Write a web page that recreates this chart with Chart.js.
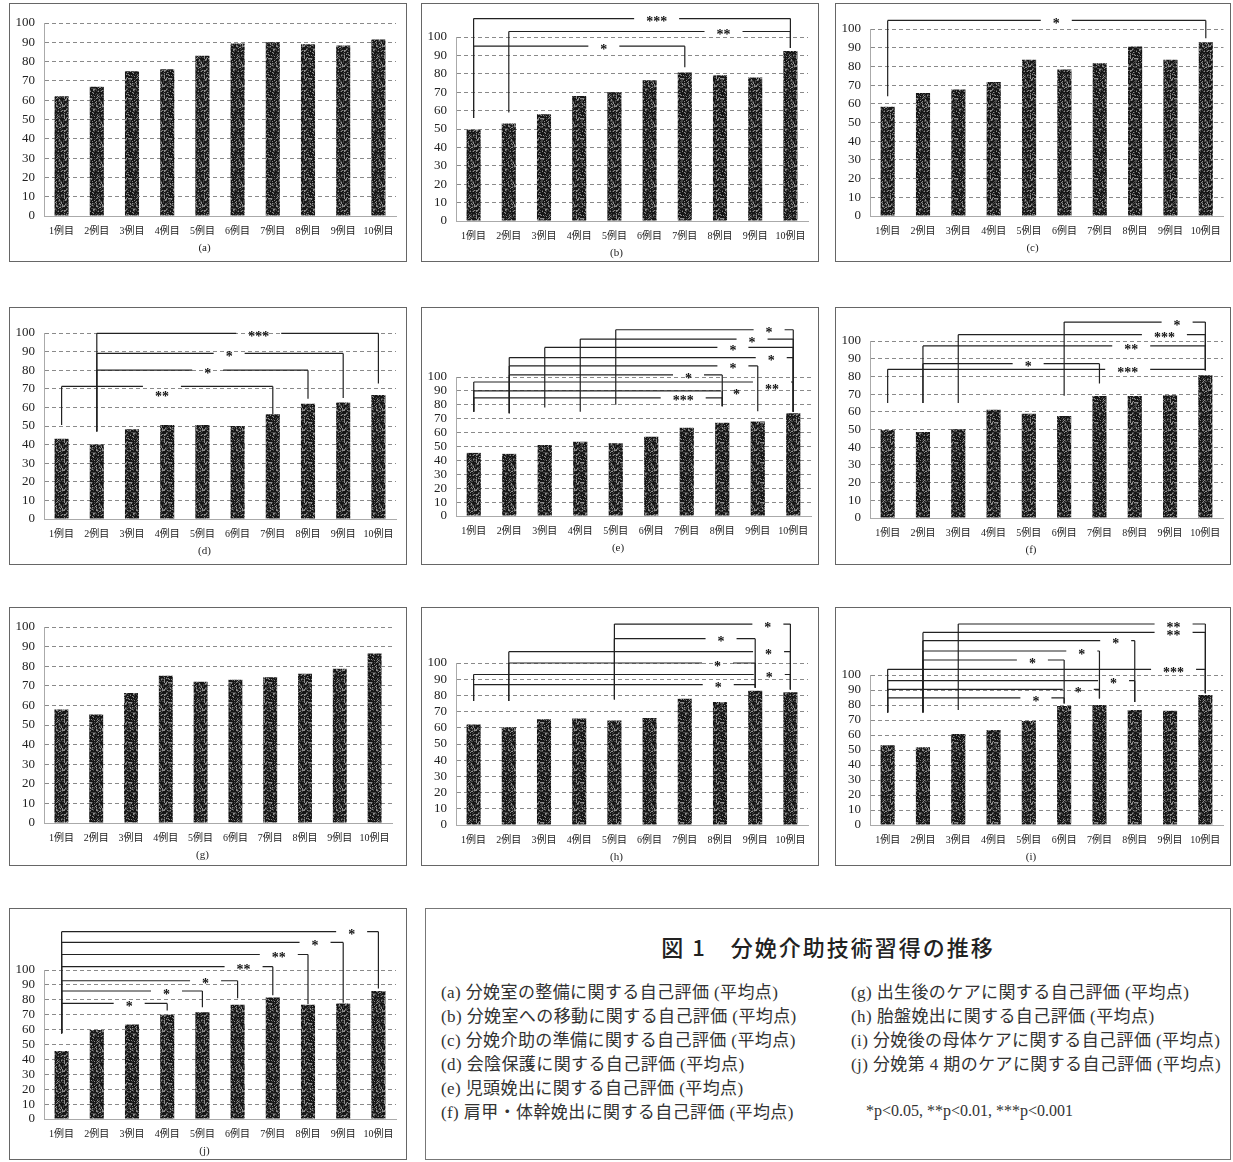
<!DOCTYPE html>
<html lang="ja">
<head>
<meta charset="utf-8">
<script src="https://cdn.jsdelivr.net/npm/chart.js@4"></script>
<style>
  body { margin: 0; width: 1233px; height: 1162px; background: #fff; position: relative; overflow: hidden; }
  .panel { position: absolute; border: 1px solid #666; box-sizing: border-box; background: #fff; }
  .panel canvas { display: block; }
  #caption { position: absolute; left: 425px; top: 908px; width: 806px; height: 252px; border: 1px solid #777; box-sizing: border-box; color: #333; }
  #caption .ttl { position: absolute; left: 0; width: 100%; top: 21px; text-align: center; font: 500 22px 'Noto Sans CJK JP', sans-serif; letter-spacing: 2px; color: #222; }
  #caption .col { position: absolute; font: 17px 'Liberation Serif', 'Noto Sans CJK JP', serif; letter-spacing: 0.4px; line-height: 24px; white-space: nowrap; }
  #caption .note { position: absolute; font: 16px 'Liberation Serif', serif; white-space: nowrap; }
</style>
</head>
<body>
<div id="caption">
  <div class="ttl">図 1　分娩介助技術習得の推移</div>
  <div class="col" id="capLeft" style="left:15px; top:72px;"></div>
  <div class="col" id="capRight" style="left:425px; top:72px;"></div>
  <div class="note" style="left:440px; top:193px;">*p&lt;0.05, **p&lt;0.01, ***p&lt;0.001</div>
</div>
<script>
// 横軸と目盛り
const categories = ['1例目', '2例目', '3例目', '4例目', '5例目', '6例目', '7例目', '8例目', '9例目', '10例目'];
const yTicks = [0, 10, 20, 30, 40, 50, 60, 70, 80, 90, 100];

// 各グラフの平均点
const scoresA = [62, 67, 75, 76, 83, 89.4, 90, 89, 88.4, 91.5];
const scoresB = [49.6, 53, 58, 68, 70, 76.5, 80.7, 79.2, 78, 92.4];
const scoresC = [58.4, 65.8, 67.6, 71.7, 83.6, 78.3, 81.7, 90.7, 83.5, 92.9];
const scoresD = [43.2, 40, 48.3, 50.5, 50.5, 50, 56.3, 62, 62.6, 66.6];
const scoresE = [45.4, 44.7, 51, 53.4, 52.4, 57, 63.5, 67.1, 67.9, 73.9];
const scoresF = [49.7, 48.6, 50.1, 61.2, 58.9, 57.6, 68.9, 68.9, 69.4, 80.7];
const scoresG = [57.9, 55.4, 66.3, 75.1, 72.1, 73.1, 74.3, 76.2, 78.7, 86.5];
const scoresH = [62, 60.4, 65.3, 65.7, 64.5, 66.1, 78, 75.9, 82.9, 82];
const scoresI = [53.1, 51.8, 60.7, 63.3, 69.3, 79.3, 80, 76.7, 76.2, 86.7];
const scoresJ = [45.7, 59.8, 63.5, 70, 71.7, 76.7, 81.5, 76.7, 77.6, 85.9];

// 有意差の括弧: [始点, 終点, 高さ, 始点の下端, 終点の下端, 記号, 記号の位置, 記号の高さ]
const sigA = [];
const sigB = [
  [0, 9, 110, 56, 94, '***', 5.2],
  [1, 9, 103, 59, 94, '**', 7.1],
  [0, 6, 95, 56, 83.5, '*', 3.7]
];
const sigC = [
  [0, 9, 104.6, 64, 95, '*', 4.77]
];
const sigD = [
  [1, 9, 99.8, 47, 72.8, '***', 5.6],
  [1, 8, 89, 47, 65, '*', 4.76],
  [1, 7, 80, 47, 64.6, '*', 4.15],
  [0, 6, 71.3, 50.5, 56.3, '**', 2.85, 67.8]
];
const sigE = [
  [4, 9, 134, 80, 75, '*', 8.32],
  [3, 9, 127.3, 75, 75, '*', 7.84],
  [2, 9, 121.3, 78, 75, '*', 7.3],
  [1, 9, 114, 74, 75, '*', 8.38],
  [1, 8, 108, 74, 75.4, '*', 7.3],
  [1, 7, 101.5, 74, 79, '*', 6.05],
  [0, 9, 96.4, 75, 75, '**', 8.4, 93.5],
  [0, 7, 90, 75, 79, '*', 7.4],
  [0, 7, 85, 75, 79, '***', 5.9]
];
const sigF = [
  [5, 9, 110.7, 69, 83.5, '*', 8.2],
  [2, 9, 103.6, 65, 83.5, '***', 7.84],
  [1, 9, 97.2, 65, 83.5, '**', 6.9],
  [1, 6, 87.2, 65, 76, '*', 3.98],
  [0, 9, 84, 65, 83.5, '***', 6.8]
];
const sigG = [];
const sigH = [
  [4, 9, 124, 77.5, 83.7, '*', 8.36],
  [4, 8, 115, 77.5, 84.7, '*', 7.03],
  [1, 9, 107, 76.5, 83.7, '*', 8.38],
  [1, 8, 100, 76.5, 84.7, '*', 6.93],
  [0, 9, 92.9, 76.5, 83.7, '*', 8.4],
  [0, 8, 86.7, 76.5, 84.7, '*', 6.95]
];
const sigI = [
  [2, 9, 134, 76.7, 87.8, '**', 8.1],
  [1, 9, 128.4, 75, 87.8, '**', 8.1],
  [1, 7, 122.9, 75, 82, '*', 6.46],
  [1, 6, 116, 75, 84.4, '*', 5.5],
  [1, 5, 110, 75, 81, '*', 4.1],
  [0, 9, 103.8, 75, 87.8, '***', 8.1],
  [0, 7, 96.2, 75, 82, '*', 6.4],
  [0, 6, 90.4, 75, 84.4, '*', 5.4],
  [0, 5, 84.7, 75, 81, '*', 4.2]
];
const sigJ = [
  [0, 9, 125.7, 57.6, 87.6, '*', 8.24],
  [0, 8, 118.5, 57.6, 78, '*', 7.2],
  [0, 7, 110.4, 57.6, 77.2, '**', 6.17],
  [0, 6, 102.2, 57.6, 83, '**', 5.17],
  [0, 5, 92.8, 57.6, 81, '*', 4.09],
  [0, 4, 85.9, 57.6, 75, '*', 2.98],
  [0, 3, 77.6, 57.6, 72.8, '*', 1.92]
];

const captionLeft = [
  '(a) 分娩室の整備に関する自己評価 (平均点)',
  '(b) 分娩室への移動に関する自己評価 (平均点)',
  '(c) 分娩介助の準備に関する自己評価 (平均点)',
  '(d) 会陰保護に関する自己評価 (平均点)',
  '(e) 児頭娩出に関する自己評価 (平均点)',
  '(f) 肩甲・体幹娩出に関する自己評価 (平均点)'
];
const captionRight = [
  '(g) 出生後のケアに関する自己評価 (平均点)',
  '(h) 胎盤娩出に関する自己評価 (平均点)',
  '(i) 分娩後の母体ケアに関する自己評価 (平均点)',
  '(j) 分娩第 4 期のケアに関する自己評価 (平均点)'
];

document.getElementById('capLeft').innerHTML = captionLeft.map(t => `<div>${t}</div>`).join('');
document.getElementById('capRight').innerHTML = captionRight.map(t => `<div>${t}</div>`).join('');

// 配置: box = [left, top, width, height], pad = [top, right, bottom]
const panels = [
  { id: 'a', values: scoresA, sig: sigA, box: [9, 3, 398, 259], pad: [19, 10, 5] },
  { id: 'b', values: scoresB, sig: sigB, box: [421, 3, 398, 259], pad: [33, 10, 0] },
  { id: 'c', values: scoresC, sig: sigC, box: [835, 3, 396, 259], pad: [25, 4, 5] },
  { id: 'd', values: scoresD, sig: sigD, box: [9, 307, 398, 258], pad: [25, 10, 5] },
  { id: 'e', values: scoresE, sig: sigE, box: [421, 307, 398, 258], pad: [69, 7, 8] },
  { id: 'f', values: scoresF, sig: sigF, box: [835, 307, 396, 258], pad: [33, 7, 6] },
  { id: 'g', values: scoresG, sig: sigG, box: [9, 607, 398, 259], pad: [19, 14, 2] },
  { id: 'h', values: scoresH, sig: sigH, box: [421, 607, 398, 259], pad: [55, 10, 0] },
  { id: 'i', values: scoresI, sig: sigI, box: [835, 607, 396, 259], pad: [67, 7, 0] },
  { id: 'j', values: scoresJ, sig: sigJ, box: [9, 908, 398, 252], pad: [61, 10, 0] }
];

const serif = "'Liberation Serif', 'Noto Sans CJK JP', serif";

// 棒の砂目模様
function stipple() {
  const c = document.createElement('canvas');
  c.width = 20; c.height = 20;
  const g = c.getContext('2d');
  const img = g.createImageData(20, 20);
  let s = 12345;
  for (let p = 0; p < 400; p++) {
    s = (s * 16807) % 2147483647;
    const r = s % 100;
    const v = r < 16 ? 140 : r < 42 ? 70 : 22;
    img.data[p * 4] = img.data[p * 4 + 1] = img.data[p * 4 + 2] = v;
    img.data[p * 4 + 3] = 255;
  }
  g.putImageData(img, 0, 0);
  return g.createPattern(c, 'repeat');
}
const texture = stipple();

function sigPlugin(list) {
  return {
    id: 'sigBrackets',
    afterDraw(chart) {
      const { ctx, scales: { x, y } } = chart;
      ctx.save();
      ctx.strokeStyle = '#222';
      ctx.lineWidth = 1.2;
      ctx.fillStyle = '#111';
      ctx.font = "bold 14px 'Liberation Serif', serif";
      ctx.textAlign = 'center';
      ctx.textBaseline = 'middle';
      list.forEach(([a, b, lv, da, db, lab, at, labLv]) => {
        const xa = x.getPixelForValue(a), xb = x.getPixelForValue(b);
        const yl = y.getPixelForValue(lv);
        const xt = x.getPixelForValue(at);
        const yt = labLv == null ? yl : y.getPixelForValue(labLv);
        const half = ctx.measureText(lab).width / 2 + 12;
        const g0 = xt - half, g1 = xt + half;
        ctx.beginPath();
        if (g1 > xa && g0 < xb) {
          if (g0 > xa) { ctx.moveTo(xa, yl); ctx.lineTo(g0, yl); }
          if (g1 < xb) { ctx.moveTo(g1, yl); ctx.lineTo(xb, yl); }
        } else {
          ctx.moveTo(xa, yl); ctx.lineTo(xb, yl);
        }
        ctx.moveTo(xa, yl); ctx.lineTo(xa, y.getPixelForValue(da));
        ctx.moveTo(xb, yl); ctx.lineTo(xb, y.getPixelForValue(db));
        ctx.stroke();
        ctx.fillText(lab, xt, yt + 4);
      });
      ctx.restore();
    }
  };
}

function drawPanel(p) {
  const box = document.createElement('div');
  box.className = 'panel';
  box.style.left = p.box[0] + 'px';
  box.style.top = p.box[1] + 'px';
  box.style.width = p.box[2] + 'px';
  box.style.height = p.box[3] + 'px';
  const cv = document.createElement('canvas');
  cv.width = p.box[2] - 2;
  cv.height = p.box[3] - 2;
  box.appendChild(cv);
  document.body.appendChild(box);

  new Chart(cv.getContext('2d'), {
    type: 'bar',
    data: {
      labels: categories,
      datasets: [{ data: p.values, backgroundColor: texture, barPercentage: 0.4, categoryPercentage: 1 }]
    },
    options: {
      responsive: false,
      animation: false,
      layout: { padding: { top: p.pad[0], right: p.pad[1], bottom: p.pad[2], left: 3 } },
      plugins: {
        legend: { display: false },
        tooltip: { enabled: false },
        title: {
          display: true, text: '(' + p.id + ')', position: 'bottom', color: '#222',
          font: { family: serif, size: 11, weight: 'normal', lineHeight: 1 }, padding: { top: 3, bottom: 2 }
        }
      },
      scales: {
        x: {
          afterFit: s => { s.height = 24; },
          grid: { display: false, drawTicks: false },
          border: { color: '#aaa' },
          ticks: { color: '#222', font: { family: serif, size: 10 }, padding: 9, maxRotation: 0, autoSkip: false }
        },
        y: {
          min: 0, max: 100,
          afterBuildTicks: s => { s.ticks = yTicks.map(v => ({ value: v })); },
          afterFit: s => { s.width = 31; },
          grid: { color: '#8a8a8a', drawTicks: false },
          border: { display: true, color: '#aaa', dash: [4, 3] },
          ticks: { color: '#222', font: { family: serif, size: 13 }, padding: 9, autoSkip: false }
        }
      }
    },
    plugins: [sigPlugin(p.sig)]
  });
}

panels.forEach(drawPanel);
</script>
</body>
</html>
